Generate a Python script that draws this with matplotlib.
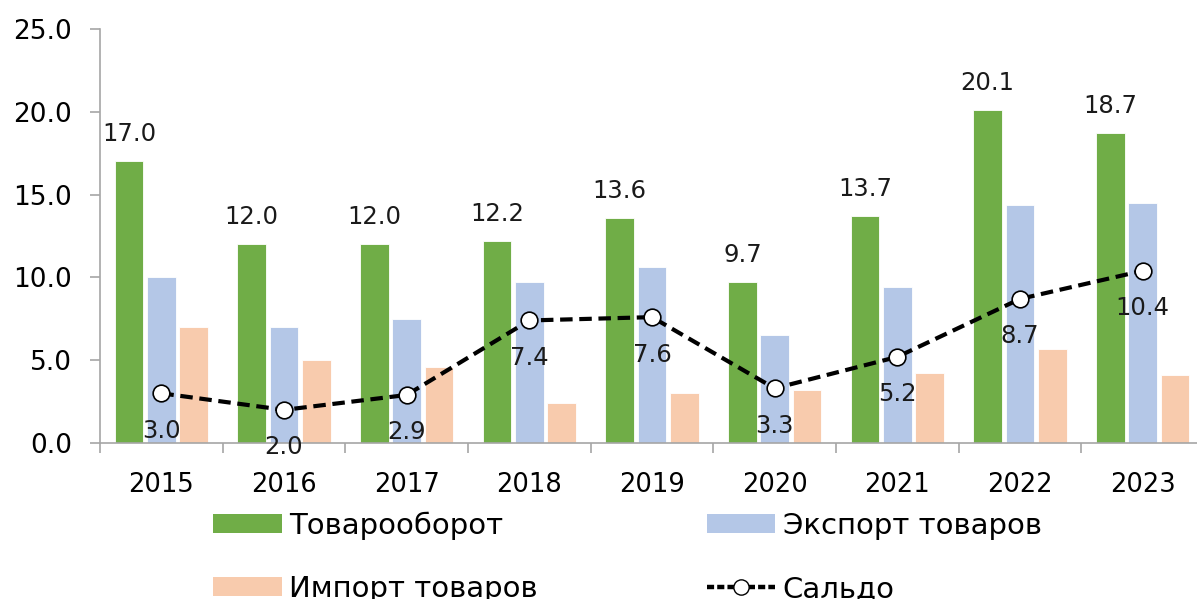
import matplotlib
matplotlib.use('Agg')
import matplotlib.pyplot as plt
from matplotlib.lines import Line2D
from matplotlib.patches import Patch
import numpy as np

plt.rcParams['font.family'] = ['DejaVu Sans']

# данные
years = ['2015', '2016', '2017', '2018', '2019', '2020', '2021', '2022', '2023']
turnover = [17.0, 12.0, 12.0, 12.2, 13.6, 9.7, 13.7, 20.1, 18.7]
export = [10.0, 7.0, 7.5, 9.7, 10.6, 6.5, 9.4, 14.4, 14.5]
imports = [7.0, 5.0, 4.6, 2.4, 3.0, 3.2, 4.2, 5.7, 4.1]
saldo = [3.0, 2.0, 2.9, 7.4, 7.6, 3.3, 5.2, 8.7, 10.4]

c_green = '#70AD47'
c_blue = '#B4C7E7'
c_orange = '#F8CBAD'
c_axis = '#A6A6A6'

fig = plt.figure(figsize=(11.97, 5.99), dpi=100)
ax = fig.add_axes([100 / 1197, 1 - 443 / 599, 1104 / 1197, 414 / 599])

x = np.arange(len(years))
w = 0.235
step = 0.263
ax.bar(x - step, turnover, w, color=c_green, edgecolor='white', linewidth=0.6)
ax.bar(x, export, w, color=c_blue, edgecolor='white', linewidth=0.6)
ax.bar(x + step, imports, w, color=c_orange, edgecolor='white', linewidth=0.6)

ax.plot(x, saldo, color='black', linestyle=(0, (3, 1.6)), linewidth=3,
        marker='o', markersize=12, markerfacecolor='white',
        markeredgecolor='black', markeredgewidth=1.2, zorder=5)

# подписи значений
for xi, v in zip(x, turnover):
    ax.annotate(f'{v:.1f}', (xi - step, v), xytext=(0, 11), textcoords='offset points',
                ha='center', va='bottom', fontsize=17.5, color='#1a1a1a')
for xi, v in zip(x, saldo):
    ax.annotate(f'{v:.1f}', (xi, v), xytext=(0, -27), textcoords='offset points',
                ha='center', va='center', fontsize=17.5, color='#1a1a1a', zorder=6)

ax.set_xlim(-0.5, 8.5)
ax.set_ylim(0, 25)
ax.set_yticks(np.arange(0, 25.1, 5))
ax.set_yticklabels([f'{t:.1f}' for t in np.arange(0, 25.1, 5)])
ax.set_xticks(x)
ax.set_xticklabels(years)
ax.set_xticks(np.arange(-0.5, 8.6, 1), minor=True)
ax.tick_params(axis='x', which='major', length=0, pad=21, labelsize=18.5)
ax.tick_params(axis='x', which='minor', length=7, color=c_axis, width=1.2, direction='out')
ax.tick_params(axis='y', length=7, color=c_axis, width=1.2, labelsize=19, pad=13)

for s in ['top', 'right']:
    ax.spines[s].set_visible(False)
for s in ['left', 'bottom']:
    ax.spines[s].set_color(c_axis)
    ax.spines[s].set_linewidth(1.2)

handles = [
    Patch(facecolor=c_green, label='Товарооборот'),
    Patch(facecolor=c_orange, label='Импорт товаров'),
    Patch(facecolor=c_blue, label='Экспорт товаров'),
    Line2D([0], [0], color='black', linestyle=(0, (1.6, 0.7)), linewidth=3.2, marker='o',
           markersize=11, markerfacecolor='white', markeredgecolor='black', label='Сальдо'),
]
fig.legend(handles=handles, loc='lower left', bbox_to_anchor=(187 / 1197, -0.05),
           ncol=2, frameon=False, columnspacing=5.8, handlelength=2.35,
           handleheight=0.6, handletextpad=0.25, labelspacing=1.2,
           prop={'family': ['DejaVu Sans'], 'size': 21})

fig.savefig('out.png', dpi=100)
